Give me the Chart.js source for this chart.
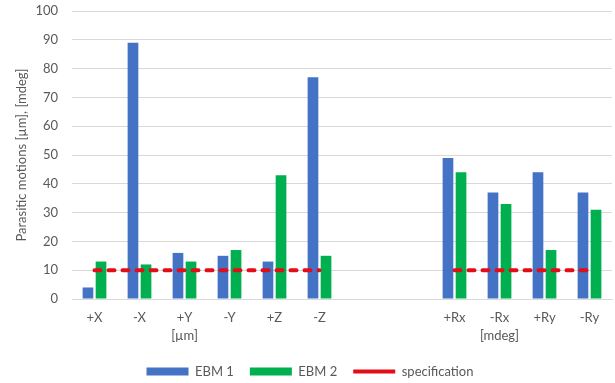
<!DOCTYPE html>
<html>
<head>
<meta charset="utf-8">
<script src="https://cdn.jsdelivr.net/npm/chart.js@4"></script>
<style>
  html, body { margin: 0; padding: 0; background: #ffffff; }
  #wrap { width: 615px; height: 383px; }
</style>
</head>
<body>
<div id="wrap"><canvas id="motionChart" width="615" height="383"></canvas></div>
<script>

// ======================
// DATA
// ======================

const categories = [
  "+X", "-X", ["+Y", "[µm]"], "-Y", "+Z", "-Z",
  "", "",
  "+Rx", ["-Rx", "[mdeg]"], "+Ry", "-Ry"
];

const ebm1Values = [4, 89, 16, 15, 13, 77, null, null, 49, 37, 44, 37];
const ebm2Values = [13, 12, 13, 17, 43, 15, null, null, 44, 33, 17, 31];
const specValues = [10, 10, 10, 10, 10, 10, null, null, 10, 10, 10, 10];

const yTicks = [0, 10, 20, 30, 40, 50, 60, 70, 80, 90, 100];


// ======================
// COLORS
// ======================

const blue = "#4472c4";
const green = "#00b050";
const red = "#e30d17";
const textGray = "#595959";
const gridGray = "#d9d9d9";

Chart.defaults.font.family = "Lato, 'Open Sans', sans-serif";
Chart.defaults.font.size = 13;
Chart.defaults.color = textGray;


// ======================
// CHART
// ======================

const canvas =
  document.getElementById("motionChart");

new Chart(canvas, {

  type: "bar",

  data: {

    labels: categories,

    datasets: [
      {
        label: "EBM 1",
        data: ebm1Values,
        backgroundColor: blue,
        pointStyle: "rect",
        barPercentage: 0.82,
        categoryPercentage: 0.58,
        order: 2
      },
      {
        label: "EBM 2",
        data: ebm2Values,
        backgroundColor: green,
        pointStyle: "rect",
        barPercentage: 0.82,
        categoryPercentage: 0.58,
        order: 2
      },
      {
        type: "line",
        label: "specification",
        data: specValues,
        borderColor: red,
        backgroundColor: red,
        borderWidth: 4,
        borderDash: [6, 8],
        borderCapStyle: "round",
        pointRadius: 0,
        pointHoverRadius: 0,
        pointStyle: "line",
        spanGaps: false,
        fill: false,
        order: 1
      }
    ]

  },

  options: {

    responsive: false,
    animation: false,

    layout: {
      padding: { top: 0, right: 3, left: 8, bottom: -5 }
    },

    plugins: {
      tooltip: { enabled: false },
      legend: {
        position: "bottom",
        labels: {
          usePointStyle: true,
          pointStyleWidth: 42,
          boxHeight: 8,
          padding: 16,
          sort: (a, b) => a.datasetIndex - b.datasetIndex,
          font: { size: 13 },
          color: textGray
        }
      }
    },

    scales: {

      x: {
        grid: { display: false, drawTicks: false },
        border: { display: true, color: gridGray },
        afterFit: axis => {
          axis.height = 50;
        },
        ticks: {
          color: textGray,
          padding: 10,
          maxRotation: 0,
          autoSkip: false,
          font: { size: 13, lineHeight: 1.4 }
        }
      },

      y: {
        min: 0,
        max: 100,
        afterBuildTicks: axis => {
          axis.ticks = yTicks.map(v => ({ value: v }));
        },
        afterFit: axis => {
          axis.width = 64;
          axis.paddingTop = 11;
        },
        grid: { color: gridGray, drawTicks: false },
        border: { display: false },
        ticks: {
          color: textGray,
          padding: 14,
          font: { size: 13 }
        },
        title: {
          display: true,
          text: "Parasitic motions [µm], [mdeg]",
          color: textGray,
          font: { size: 13 },
          padding: { top: 6, bottom: 0 }
        }
      }

    }

  }

});

</script>
</body>
</html>
